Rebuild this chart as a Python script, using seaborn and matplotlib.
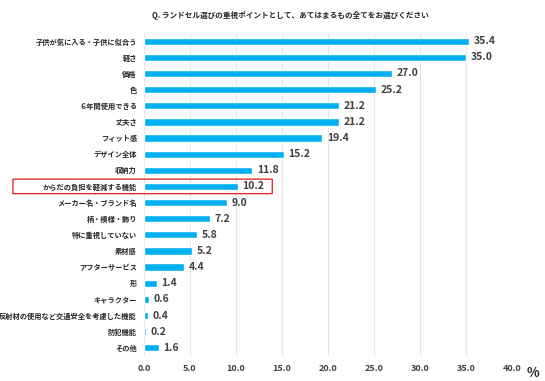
import matplotlib
matplotlib.use("Agg")
import matplotlib.pyplot as plt
import matplotlib.transforms as mtransforms
from matplotlib.patches import FancyBboxPatch
import pandas as pd
import seaborn as sns

# データ
items = [
    "子供が気に入る・子供に似合う", "軽さ", "価格", "色", "６年間使用できる",
    "丈夫さ", "フィット感", "デザイン全体", "収納力", "からだの負担を軽減する機能",
    "メーカー名・ブランド名", "柄・模様・飾り", "特に重視していない", "素材感",
    "アフターサービス", "形", "キャラクター", "反射材の使用など交通安全を考慮した機能",
    "防犯機能", "その他",
]
values = [35.4, 35.0, 27.0, 25.2, 21.2, 21.2, 19.4, 15.2, 11.8, 10.2,
          9.0, 7.2, 5.8, 5.2, 4.4, 1.4, 0.6, 0.4, 0.2, 1.6]
xticks = [0, 5, 10, 15, 20, 25, 30, 35, 40]
title = "Q. ランドセル選びの重視ポイントとして、あてはまるもの全てをお選びください"
highlight = "からだの負担を軽減する機能"

df = pd.DataFrame({"item": items, "value": values})

sns.set_theme(style="white")
plt.rcParams["font.family"] = ["Noto Sans CJK JP", "DejaVu Sans"]

fig = plt.figure(figsize=(5.45, 3.81), dpi=100)
ax = fig.add_axes([0.264, 0.066, 0.675, 0.847])

sns.barplot(data=df, x="value", y="item", color="#00B0F0", saturation=1,
            width=0.45, ax=ax, zorder=3)

ax.set_xlim(0, 40)
ax.set_xticks(xticks)
ax.set_xticklabels([f"{t:.1f}" for t in xticks], fontsize=6.5, fontweight="bold",
                   color="#404040")
ax.tick_params(axis="y", labelsize=5.2, length=0, pad=5, labelcolor="#262626")
ax.tick_params(axis="x", length=0, pad=6)
for lbl in ax.get_yticklabels():
    lbl.set_fontweight("bold")
ax.set_xlabel("")
ax.set_ylabel("")
ax.grid(axis="x", color="#e6e6e6", linewidth=0.8, zorder=0)
for s in ax.spines.values():
    s.set_visible(False)

# 数値ラベル
for i, v in enumerate(values):
    ax.text(v + 0.5, i, f"{v:.1f}", va="center", ha="left", fontsize=7.5,
            fontweight="bold", color="#404040")

ax.text(1.058, -0.03, "%", transform=ax.transAxes, ha="center", va="top",
        fontsize=9.5, fontweight="bold", color="#262626")

fig.text(0.532, 0.96, title, ha="center", va="center", fontsize=5.5,
         fontweight="bold", color="#262626")

# 強調枠
idx = items.index(highlight)
trans = mtransforms.blended_transform_factory(ax.transAxes, ax.transData)
box = FancyBboxPatch((-0.356, idx - 0.45), 0.705, 0.9,
                     boxstyle="round,pad=0,rounding_size=0.012",
                     transform=trans, fill=False, edgecolor="#e0303a",
                     linewidth=1.0, clip_on=False, zorder=5)
ax.add_patch(box)

fig.savefig("out.png", dpi=100)
